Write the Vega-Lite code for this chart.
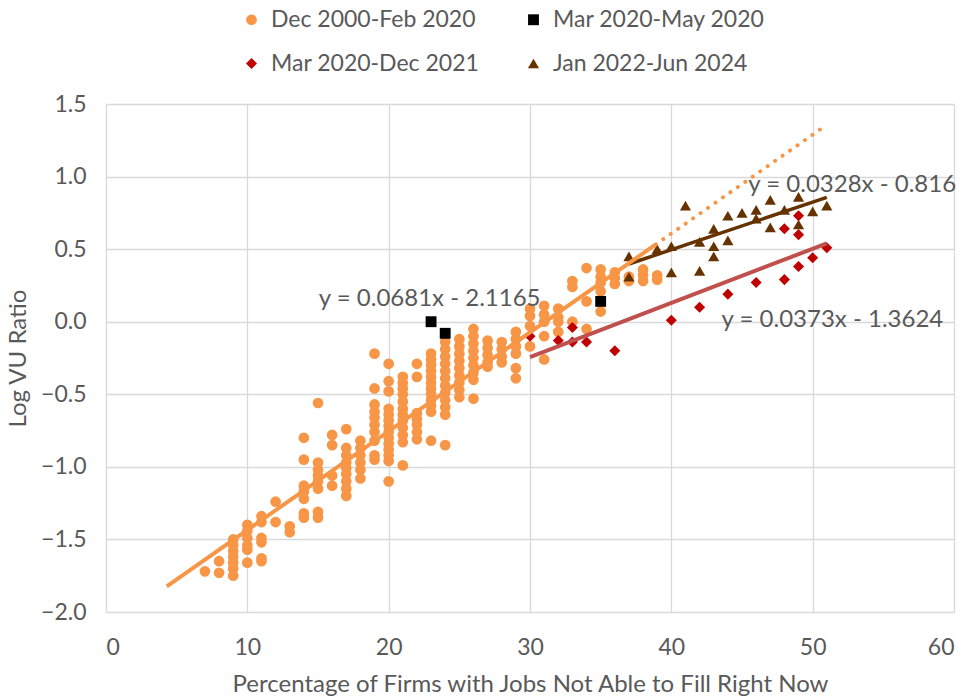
{
  "$schema": "https://vega.github.io/schema/vega-lite/v6.json",
  "width": 848,
  "height": 508,
  "autosize": "none",
  "padding": {"left": 106, "top": 104, "right": 15, "bottom": 86},
  "background": "white",
  "config": {
    "font": "Lato",
    "view": {"stroke": null},
    "axis": {
      "labelFont": "Lato", "titleFont": "Lato",
      "labelColor": "#595959", "titleColor": "#595959",
      "labelFontSize": 23, "titleFontSize": 24,
      "titleFontWeight": "normal",
      "gridColor": "#D9D9D9", "gridWidth": 1.3,
      "domain": false, "ticks": false
    },
    "legend": {"labelFont": "Lato", "labelColor": "#595959", "labelFontSize": 23, "labelLimit": 0}
  },
  "datasets": {
    "pts": [
      {"period": "Dec 2000-Feb 2020", "x": 7, "y": -1.72},
      {"period": "Dec 2000-Feb 2020", "x": 8, "y": -1.65},
      {"period": "Dec 2000-Feb 2020", "x": 8, "y": -1.73},
      {"period": "Dec 2000-Feb 2020", "x": 9, "y": -1.50},
      {"period": "Dec 2000-Feb 2020", "x": 9, "y": -1.54},
      {"period": "Dec 2000-Feb 2020", "x": 9, "y": -1.58},
      {"period": "Dec 2000-Feb 2020", "x": 9, "y": -1.62},
      {"period": "Dec 2000-Feb 2020", "x": 9, "y": -1.66},
      {"period": "Dec 2000-Feb 2020", "x": 9, "y": -1.70},
      {"period": "Dec 2000-Feb 2020", "x": 9, "y": -1.75},
      {"period": "Dec 2000-Feb 2020", "x": 10, "y": -1.40},
      {"period": "Dec 2000-Feb 2020", "x": 10, "y": -1.44},
      {"period": "Dec 2000-Feb 2020", "x": 10, "y": -1.49},
      {"period": "Dec 2000-Feb 2020", "x": 10, "y": -1.54},
      {"period": "Dec 2000-Feb 2020", "x": 10, "y": -1.57},
      {"period": "Dec 2000-Feb 2020", "x": 10, "y": -1.66},
      {"period": "Dec 2000-Feb 2020", "x": 11, "y": -1.34},
      {"period": "Dec 2000-Feb 2020", "x": 11, "y": -1.38},
      {"period": "Dec 2000-Feb 2020", "x": 11, "y": -1.49},
      {"period": "Dec 2000-Feb 2020", "x": 11, "y": -1.52},
      {"period": "Dec 2000-Feb 2020", "x": 11, "y": -1.63},
      {"period": "Dec 2000-Feb 2020", "x": 11, "y": -1.65},
      {"period": "Dec 2000-Feb 2020", "x": 12, "y": -1.24},
      {"period": "Dec 2000-Feb 2020", "x": 12, "y": -1.38},
      {"period": "Dec 2000-Feb 2020", "x": 13, "y": -1.41},
      {"period": "Dec 2000-Feb 2020", "x": 13, "y": -1.45},
      {"period": "Dec 2000-Feb 2020", "x": 14, "y": -0.80},
      {"period": "Dec 2000-Feb 2020", "x": 14, "y": -0.95},
      {"period": "Dec 2000-Feb 2020", "x": 14, "y": -1.13},
      {"period": "Dec 2000-Feb 2020", "x": 14, "y": -1.17},
      {"period": "Dec 2000-Feb 2020", "x": 14, "y": -1.22},
      {"period": "Dec 2000-Feb 2020", "x": 14, "y": -1.32},
      {"period": "Dec 2000-Feb 2020", "x": 14, "y": -1.35},
      {"period": "Dec 2000-Feb 2020", "x": 15, "y": -0.56},
      {"period": "Dec 2000-Feb 2020", "x": 15, "y": -0.97},
      {"period": "Dec 2000-Feb 2020", "x": 15, "y": -1.02},
      {"period": "Dec 2000-Feb 2020", "x": 15, "y": -1.06},
      {"period": "Dec 2000-Feb 2020", "x": 15, "y": -1.10},
      {"period": "Dec 2000-Feb 2020", "x": 15, "y": -1.15},
      {"period": "Dec 2000-Feb 2020", "x": 15, "y": -1.31},
      {"period": "Dec 2000-Feb 2020", "x": 15, "y": -1.35},
      {"period": "Dec 2000-Feb 2020", "x": 16, "y": -0.78},
      {"period": "Dec 2000-Feb 2020", "x": 16, "y": -0.85},
      {"period": "Dec 2000-Feb 2020", "x": 16, "y": -1.06},
      {"period": "Dec 2000-Feb 2020", "x": 16, "y": -1.13},
      {"period": "Dec 2000-Feb 2020", "x": 17, "y": -0.74},
      {"period": "Dec 2000-Feb 2020", "x": 17, "y": -0.87},
      {"period": "Dec 2000-Feb 2020", "x": 17, "y": -0.92},
      {"period": "Dec 2000-Feb 2020", "x": 17, "y": -0.97},
      {"period": "Dec 2000-Feb 2020", "x": 17, "y": -1.01},
      {"period": "Dec 2000-Feb 2020", "x": 17, "y": -1.05},
      {"period": "Dec 2000-Feb 2020", "x": 17, "y": -1.10},
      {"period": "Dec 2000-Feb 2020", "x": 17, "y": -1.15},
      {"period": "Dec 2000-Feb 2020", "x": 17, "y": -1.20},
      {"period": "Dec 2000-Feb 2020", "x": 18, "y": -0.82},
      {"period": "Dec 2000-Feb 2020", "x": 18, "y": -0.87},
      {"period": "Dec 2000-Feb 2020", "x": 18, "y": -0.92},
      {"period": "Dec 2000-Feb 2020", "x": 18, "y": -0.97},
      {"period": "Dec 2000-Feb 2020", "x": 18, "y": -1.02},
      {"period": "Dec 2000-Feb 2020", "x": 18, "y": -1.08},
      {"period": "Dec 2000-Feb 2020", "x": 19, "y": -0.22},
      {"period": "Dec 2000-Feb 2020", "x": 19, "y": -0.46},
      {"period": "Dec 2000-Feb 2020", "x": 19, "y": -0.57},
      {"period": "Dec 2000-Feb 2020", "x": 19, "y": -0.62},
      {"period": "Dec 2000-Feb 2020", "x": 19, "y": -0.66},
      {"period": "Dec 2000-Feb 2020", "x": 19, "y": -0.71},
      {"period": "Dec 2000-Feb 2020", "x": 19, "y": -0.76},
      {"period": "Dec 2000-Feb 2020", "x": 19, "y": -0.82},
      {"period": "Dec 2000-Feb 2020", "x": 19, "y": -0.92},
      {"period": "Dec 2000-Feb 2020", "x": 19, "y": -0.95},
      {"period": "Dec 2000-Feb 2020", "x": 20, "y": -0.29},
      {"period": "Dec 2000-Feb 2020", "x": 20, "y": -0.41},
      {"period": "Dec 2000-Feb 2020", "x": 20, "y": -0.48},
      {"period": "Dec 2000-Feb 2020", "x": 20, "y": -0.60},
      {"period": "Dec 2000-Feb 2020", "x": 20, "y": -0.64},
      {"period": "Dec 2000-Feb 2020", "x": 20, "y": -0.68},
      {"period": "Dec 2000-Feb 2020", "x": 20, "y": -0.72},
      {"period": "Dec 2000-Feb 2020", "x": 20, "y": -0.76},
      {"period": "Dec 2000-Feb 2020", "x": 20, "y": -0.80},
      {"period": "Dec 2000-Feb 2020", "x": 20, "y": -0.84},
      {"period": "Dec 2000-Feb 2020", "x": 20, "y": -0.88},
      {"period": "Dec 2000-Feb 2020", "x": 20, "y": -0.92},
      {"period": "Dec 2000-Feb 2020", "x": 20, "y": -0.96},
      {"period": "Dec 2000-Feb 2020", "x": 20, "y": -1.10},
      {"period": "Dec 2000-Feb 2020", "x": 21, "y": -0.38},
      {"period": "Dec 2000-Feb 2020", "x": 21, "y": -0.42},
      {"period": "Dec 2000-Feb 2020", "x": 21, "y": -0.46},
      {"period": "Dec 2000-Feb 2020", "x": 21, "y": -0.50},
      {"period": "Dec 2000-Feb 2020", "x": 21, "y": -0.55},
      {"period": "Dec 2000-Feb 2020", "x": 21, "y": -0.60},
      {"period": "Dec 2000-Feb 2020", "x": 21, "y": -0.64},
      {"period": "Dec 2000-Feb 2020", "x": 21, "y": -0.68},
      {"period": "Dec 2000-Feb 2020", "x": 21, "y": -0.73},
      {"period": "Dec 2000-Feb 2020", "x": 21, "y": -0.78},
      {"period": "Dec 2000-Feb 2020", "x": 21, "y": -0.83},
      {"period": "Dec 2000-Feb 2020", "x": 21, "y": -0.99},
      {"period": "Dec 2000-Feb 2020", "x": 22, "y": -0.29},
      {"period": "Dec 2000-Feb 2020", "x": 22, "y": -0.38},
      {"period": "Dec 2000-Feb 2020", "x": 22, "y": -0.63},
      {"period": "Dec 2000-Feb 2020", "x": 22, "y": -0.67},
      {"period": "Dec 2000-Feb 2020", "x": 22, "y": -0.71},
      {"period": "Dec 2000-Feb 2020", "x": 22, "y": -0.76},
      {"period": "Dec 2000-Feb 2020", "x": 22, "y": -0.81},
      {"period": "Dec 2000-Feb 2020", "x": 23, "y": -0.22},
      {"period": "Dec 2000-Feb 2020", "x": 23, "y": -0.26},
      {"period": "Dec 2000-Feb 2020", "x": 23, "y": -0.30},
      {"period": "Dec 2000-Feb 2020", "x": 23, "y": -0.34},
      {"period": "Dec 2000-Feb 2020", "x": 23, "y": -0.38},
      {"period": "Dec 2000-Feb 2020", "x": 23, "y": -0.42},
      {"period": "Dec 2000-Feb 2020", "x": 23, "y": -0.46},
      {"period": "Dec 2000-Feb 2020", "x": 23, "y": -0.50},
      {"period": "Dec 2000-Feb 2020", "x": 23, "y": -0.54},
      {"period": "Dec 2000-Feb 2020", "x": 23, "y": -0.58},
      {"period": "Dec 2000-Feb 2020", "x": 23, "y": -0.62},
      {"period": "Dec 2000-Feb 2020", "x": 23, "y": -0.82},
      {"period": "Dec 2000-Feb 2020", "x": 24, "y": -0.14},
      {"period": "Dec 2000-Feb 2020", "x": 24, "y": -0.19},
      {"period": "Dec 2000-Feb 2020", "x": 24, "y": -0.24},
      {"period": "Dec 2000-Feb 2020", "x": 24, "y": -0.29},
      {"period": "Dec 2000-Feb 2020", "x": 24, "y": -0.34},
      {"period": "Dec 2000-Feb 2020", "x": 24, "y": -0.39},
      {"period": "Dec 2000-Feb 2020", "x": 24, "y": -0.44},
      {"period": "Dec 2000-Feb 2020", "x": 24, "y": -0.49},
      {"period": "Dec 2000-Feb 2020", "x": 24, "y": -0.54},
      {"period": "Dec 2000-Feb 2020", "x": 24, "y": -0.59},
      {"period": "Dec 2000-Feb 2020", "x": 24, "y": -0.64},
      {"period": "Dec 2000-Feb 2020", "x": 24, "y": -0.85},
      {"period": "Dec 2000-Feb 2020", "x": 25, "y": -0.12},
      {"period": "Dec 2000-Feb 2020", "x": 25, "y": -0.17},
      {"period": "Dec 2000-Feb 2020", "x": 25, "y": -0.22},
      {"period": "Dec 2000-Feb 2020", "x": 25, "y": -0.27},
      {"period": "Dec 2000-Feb 2020", "x": 25, "y": -0.32},
      {"period": "Dec 2000-Feb 2020", "x": 25, "y": -0.37},
      {"period": "Dec 2000-Feb 2020", "x": 25, "y": -0.42},
      {"period": "Dec 2000-Feb 2020", "x": 25, "y": -0.47},
      {"period": "Dec 2000-Feb 2020", "x": 25, "y": -0.52},
      {"period": "Dec 2000-Feb 2020", "x": 26, "y": -0.05},
      {"period": "Dec 2000-Feb 2020", "x": 26, "y": -0.10},
      {"period": "Dec 2000-Feb 2020", "x": 26, "y": -0.15},
      {"period": "Dec 2000-Feb 2020", "x": 26, "y": -0.20},
      {"period": "Dec 2000-Feb 2020", "x": 26, "y": -0.25},
      {"period": "Dec 2000-Feb 2020", "x": 26, "y": -0.30},
      {"period": "Dec 2000-Feb 2020", "x": 26, "y": -0.35},
      {"period": "Dec 2000-Feb 2020", "x": 26, "y": -0.40},
      {"period": "Dec 2000-Feb 2020", "x": 26, "y": -0.53},
      {"period": "Dec 2000-Feb 2020", "x": 27, "y": -0.13},
      {"period": "Dec 2000-Feb 2020", "x": 27, "y": -0.18},
      {"period": "Dec 2000-Feb 2020", "x": 27, "y": -0.23},
      {"period": "Dec 2000-Feb 2020", "x": 27, "y": -0.28},
      {"period": "Dec 2000-Feb 2020", "x": 27, "y": -0.31},
      {"period": "Dec 2000-Feb 2020", "x": 28, "y": -0.14},
      {"period": "Dec 2000-Feb 2020", "x": 28, "y": -0.19},
      {"period": "Dec 2000-Feb 2020", "x": 28, "y": -0.24},
      {"period": "Dec 2000-Feb 2020", "x": 28, "y": -0.28},
      {"period": "Dec 2000-Feb 2020", "x": 29, "y": -0.07},
      {"period": "Dec 2000-Feb 2020", "x": 29, "y": -0.12},
      {"period": "Dec 2000-Feb 2020", "x": 29, "y": -0.17},
      {"period": "Dec 2000-Feb 2020", "x": 29, "y": -0.22},
      {"period": "Dec 2000-Feb 2020", "x": 29, "y": -0.32},
      {"period": "Dec 2000-Feb 2020", "x": 29, "y": -0.39},
      {"period": "Dec 2000-Feb 2020", "x": 30, "y": 0.09},
      {"period": "Dec 2000-Feb 2020", "x": 30, "y": 0.04},
      {"period": "Dec 2000-Feb 2020", "x": 30, "y": -0.03},
      {"period": "Dec 2000-Feb 2020", "x": 30, "y": -0.17},
      {"period": "Dec 2000-Feb 2020", "x": 31, "y": 0.11},
      {"period": "Dec 2000-Feb 2020", "x": 31, "y": 0.05},
      {"period": "Dec 2000-Feb 2020", "x": 31, "y": 0.0},
      {"period": "Dec 2000-Feb 2020", "x": 31, "y": -0.10},
      {"period": "Dec 2000-Feb 2020", "x": 31, "y": -0.26},
      {"period": "Dec 2000-Feb 2020", "x": 32, "y": 0.09},
      {"period": "Dec 2000-Feb 2020", "x": 32, "y": 0.03},
      {"period": "Dec 2000-Feb 2020", "x": 32, "y": 0.0},
      {"period": "Dec 2000-Feb 2020", "x": 32, "y": -0.07},
      {"period": "Dec 2000-Feb 2020", "x": 33, "y": 0.28},
      {"period": "Dec 2000-Feb 2020", "x": 33, "y": 0.24},
      {"period": "Dec 2000-Feb 2020", "x": 33, "y": 0.0},
      {"period": "Dec 2000-Feb 2020", "x": 34, "y": 0.37},
      {"period": "Dec 2000-Feb 2020", "x": 34, "y": 0.14},
      {"period": "Dec 2000-Feb 2020", "x": 34, "y": -0.05},
      {"period": "Dec 2000-Feb 2020", "x": 35, "y": 0.36},
      {"period": "Dec 2000-Feb 2020", "x": 35, "y": 0.31},
      {"period": "Dec 2000-Feb 2020", "x": 35, "y": 0.27},
      {"period": "Dec 2000-Feb 2020", "x": 35, "y": 0.21},
      {"period": "Dec 2000-Feb 2020", "x": 35, "y": 0.07},
      {"period": "Dec 2000-Feb 2020", "x": 36, "y": 0.34},
      {"period": "Dec 2000-Feb 2020", "x": 36, "y": 0.30},
      {"period": "Dec 2000-Feb 2020", "x": 36, "y": 0.26},
      {"period": "Dec 2000-Feb 2020", "x": 37, "y": 0.31},
      {"period": "Dec 2000-Feb 2020", "x": 37, "y": 0.28},
      {"period": "Dec 2000-Feb 2020", "x": 38, "y": 0.36},
      {"period": "Dec 2000-Feb 2020", "x": 38, "y": 0.32},
      {"period": "Dec 2000-Feb 2020", "x": 38, "y": 0.28},
      {"period": "Dec 2000-Feb 2020", "x": 39, "y": 0.32},
      {"period": "Dec 2000-Feb 2020", "x": 39, "y": 0.29},
      {"period": "Mar 2020-May 2020", "x": 23, "y": 0.0},
      {"period": "Mar 2020-May 2020", "x": 24, "y": -0.08},
      {"period": "Mar 2020-May 2020", "x": 35, "y": 0.14},
      {"period": "Mar 2020-Dec 2021", "x": 30, "y": -0.10},
      {"period": "Mar 2020-Dec 2021", "x": 32, "y": -0.13},
      {"period": "Mar 2020-Dec 2021", "x": 33, "y": -0.04},
      {"period": "Mar 2020-Dec 2021", "x": 33, "y": -0.14},
      {"period": "Mar 2020-Dec 2021", "x": 34, "y": -0.14},
      {"period": "Mar 2020-Dec 2021", "x": 36, "y": -0.20},
      {"period": "Mar 2020-Dec 2021", "x": 40, "y": 0.01},
      {"period": "Mar 2020-Dec 2021", "x": 42, "y": 0.10},
      {"period": "Mar 2020-Dec 2021", "x": 44, "y": 0.19},
      {"period": "Mar 2020-Dec 2021", "x": 46, "y": 0.27},
      {"period": "Mar 2020-Dec 2021", "x": 48, "y": 0.29},
      {"period": "Mar 2020-Dec 2021", "x": 49, "y": 0.38},
      {"period": "Mar 2020-Dec 2021", "x": 50, "y": 0.44},
      {"period": "Mar 2020-Dec 2021", "x": 51, "y": 0.51},
      {"period": "Mar 2020-Dec 2021", "x": 48, "y": 0.64},
      {"period": "Mar 2020-Dec 2021", "x": 49, "y": 0.73},
      {"period": "Mar 2020-Dec 2021", "x": 49, "y": 0.60},
      {"period": "Jan 2022-Jun 2024", "x": 37, "y": 0.45},
      {"period": "Jan 2022-Jun 2024", "x": 37, "y": 0.31},
      {"period": "Jan 2022-Jun 2024", "x": 39, "y": 0.50},
      {"period": "Jan 2022-Jun 2024", "x": 40, "y": 0.52},
      {"period": "Jan 2022-Jun 2024", "x": 40, "y": 0.34},
      {"period": "Jan 2022-Jun 2024", "x": 41, "y": 0.80},
      {"period": "Jan 2022-Jun 2024", "x": 42, "y": 0.55},
      {"period": "Jan 2022-Jun 2024", "x": 42, "y": 0.35},
      {"period": "Jan 2022-Jun 2024", "x": 43, "y": 0.64},
      {"period": "Jan 2022-Jun 2024", "x": 43, "y": 0.52},
      {"period": "Jan 2022-Jun 2024", "x": 43, "y": 0.45},
      {"period": "Jan 2022-Jun 2024", "x": 44, "y": 0.73},
      {"period": "Jan 2022-Jun 2024", "x": 44, "y": 0.56},
      {"period": "Jan 2022-Jun 2024", "x": 45, "y": 0.75},
      {"period": "Jan 2022-Jun 2024", "x": 46, "y": 0.77},
      {"period": "Jan 2022-Jun 2024", "x": 46, "y": 0.71},
      {"period": "Jan 2022-Jun 2024", "x": 47, "y": 0.84},
      {"period": "Jan 2022-Jun 2024", "x": 47, "y": 0.65},
      {"period": "Jan 2022-Jun 2024", "x": 48, "y": 0.77},
      {"period": "Jan 2022-Jun 2024", "x": 49, "y": 0.86},
      {"period": "Jan 2022-Jun 2024", "x": 49, "y": 0.67},
      {"period": "Jan 2022-Jun 2024", "x": 50, "y": 0.76},
      {"period": "Jan 2022-Jun 2024", "x": 51, "y": 0.80}
    ],
    "trend": [
      {"line": "pre", "x": 4.3, "y": -1.8237},
      {"line": "pre", "x": 38.9, "y": 0.5326},
      {"line": "forecast", "x": 38.9, "y": 0.5326},
      {"line": "forecast", "x": 51, "y": 1.3566},
      {"line": "covid", "x": 30, "y": -0.2434},
      {"line": "covid", "x": 51, "y": 0.5399},
      {"line": "recent", "x": 37, "y": 0.3976},
      {"line": "recent", "x": 51, "y": 0.8568}
    ],
    "labels": [
      {"text": "y = 0.0681x - 2.1165", "x": 22.9, "y": 0.155},
      {"text": "y = 0.0328x - 0.816", "x": 52.8, "y": 0.945},
      {"text": "y = 0.0373x - 1.3624", "x": 51.4, "y": 0.01}
    ]
  },
  "layer": [
    {
      "data": {"name": "pts"},
      "mark": {"type": "point", "filled": true, "opacity": 1, "strokeWidth": 0},
      "encoding": {
        "x": {"field": "x", "type": "quantitative",
              "scale": {"domain": [0, 60], "nice": false, "zero": false},
              "axis": {"values": [0, 10, 20, 30, 40, 50, 60], "title": "Percentage of Firms with Jobs Not Able to Fill Right Now", "labelPadding": 24, "titlePadding": 13}},
        "y": {"field": "y", "type": "quantitative",
              "scale": {"domain": [-2, 1.5], "nice": false, "zero": false},
              "axis": {"values": [-2, -1.5, -1, -0.5, 0, 0.5, 1, 1.5], "format": ".1f", "title": "Log VU Ratio", "labelPadding": 20, "titlePadding": 10}},
        "color": {"field": "period", "type": "nominal",
                  "scale": {"domain": ["Dec 2000-Feb 2020", "Mar 2020-May 2020", "Mar 2020-Dec 2021", "Jan 2022-Jun 2024"],
                            "range": ["#F79646", "#000000", "#C00000", "#663300"]},
                  "legend": {"title": null, "orient": "none", "legendX": 134, "legendY": -96, "direction": "horizontal", "columns": 2, "rowPadding": 20, "columnPadding": 42, "symbolSize": 70, "labelOffset": 8}},
        "shape": {"field": "period", "type": "nominal",
                  "scale": {"domain": ["Dec 2000-Feb 2020", "Mar 2020-May 2020", "Mar 2020-Dec 2021", "Jan 2022-Jun 2024"],
                            "range": ["circle", "square", "diamond", "triangle-up"]}},
        "size": {"field": "period", "type": "nominal", "legend": null,
                 "scale": {"domain": ["Dec 2000-Feb 2020", "Mar 2020-May 2020", "Mar 2020-Dec 2021", "Jan 2022-Jun 2024"],
                           "range": [115, 125, 100, 150]}}
      }
    },
    {
      "data": {"name": "trend"},
      "transform": [{"filter": "datum.line === 'covid'"}],
      "mark": {"type": "line", "color": "#C0504D", "strokeWidth": 4},
      "encoding": {"x": {"field": "x", "type": "quantitative"}, "y": {"field": "y", "type": "quantitative"}}
    },
    {
      "data": {"name": "trend"},
      "transform": [{"filter": "datum.line === 'recent'"}],
      "mark": {"type": "line", "color": "#663300", "strokeWidth": 3.5},
      "encoding": {"x": {"field": "x", "type": "quantitative"}, "y": {"field": "y", "type": "quantitative"}}
    },
    {
      "data": {"name": "trend"},
      "transform": [{"filter": "datum.line === 'forecast'"}],
      "mark": {"type": "line", "color": "#F79646", "strokeWidth": 4, "strokeDash": [0.1, 9], "strokeCap": "round"},
      "encoding": {"x": {"field": "x", "type": "quantitative"}, "y": {"field": "y", "type": "quantitative"}}
    },
    {
      "data": {"name": "trend"},
      "transform": [{"filter": "datum.line === 'pre'"}],
      "mark": {"type": "line", "color": "#F79646", "strokeWidth": 4},
      "encoding": {"x": {"field": "x", "type": "quantitative"}, "y": {"field": "y", "type": "quantitative"}}
    },
    {
      "data": {"name": "labels"},
      "mark": {"type": "text", "fontSize": 24, "color": "#595959", "font": "Lato", "align": "center", "baseline": "middle"},
      "encoding": {"x": {"field": "x", "type": "quantitative"}, "y": {"field": "y", "type": "quantitative"}, "text": {"field": "text"}}
    }
  ]
}
